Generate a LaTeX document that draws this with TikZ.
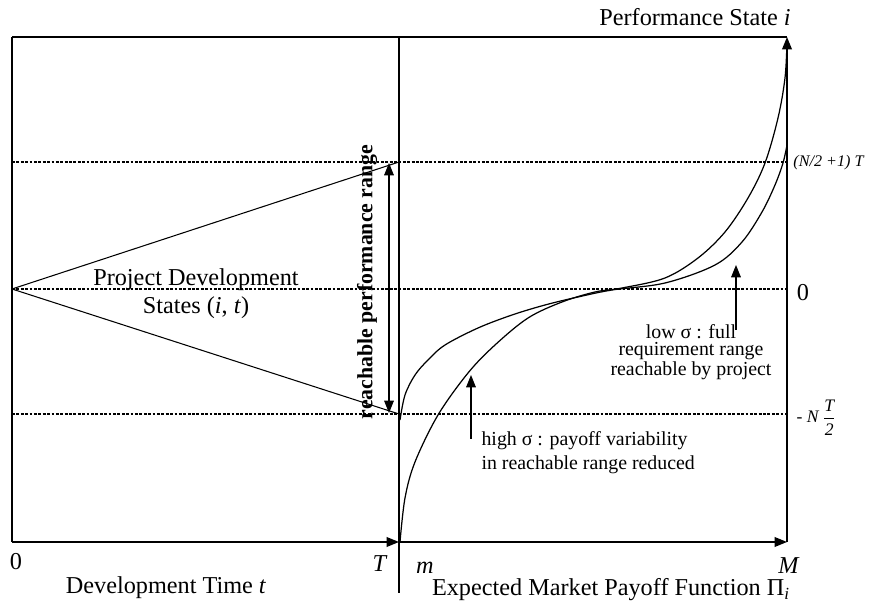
\documentclass[tikz,border=0pt]{standalone}
\usepackage{amsmath}
\usepackage{fontspec}
\setmainfont{Liberation Serif}
\usetikzlibrary{arrows.meta}

\begin{document}
\begin{tikzpicture}[x=0.02cm,y=-0.02cm,>={Triangle[length=7pt,width=5.5pt]},
		line width=0.8pt]
		\tikzstyle{lab}=[font=\fontsize{13.8}{16}\selectfont]
		\tikzstyle{note}=[font=\fontsize{11.3}{13.5}\selectfont]
		\tikzstyle{tight}=[font=\fontsize{11.3}{10}\selectfont]
		\tikzstyle{small}=[font=\fontsize{9.2}{11}\selectfont\itshape]
		\tikzstyle{level}=[line width=1pt,dash pattern=on 1.6pt off 0.9pt]
		\tikzstyle{curve}=[line width=0.7pt,smooth,tension=0.55]
		
		\useasboundingbox (0,0) rectangle (870,604);
		
		% frame
		\coordinate (o) at (12,542);
		\coordinate (t) at (399,542);
		\coordinate (m) at (787,542);
		\coordinate (tl) at (12,37);
		\coordinate (tm) at (399,37);
		\coordinate (tr) at (787,37);
		\coordinate (tb) at (399,593);
		% levels
		\coordinate (hi) at (12,162);
		\coordinate (hie) at (787,162);
		\coordinate (z) at (12,289);
		\coordinate (ze) at (787,289);
		\coordinate (lo) at (12,414);
		\coordinate (loe) at (787,414);
		
		\draw[level] (hi) -- (hie);
		\draw[level] (z) -- (ze);
		\draw[level] (lo) -- (loe);
		
		\draw (tl) -- (tr);
		\draw (tl) -- (o);
		\draw[->] (o) -- (t);
		\draw[->] (t) -- (m);
		\draw[->] (m) -- (tr);
		\draw[line width=1.4pt] (tm) -- (t);
		\draw[line width=0.6pt] (t) -- (tb);
		
		% states
		\draw[line width=0.6pt] (z) -- (t |- hi);
		\draw[line width=0.6pt] (z) -- (t |- lo);
		\coordinate (ra) at (389,163);
		\coordinate (rb) at (389,413);
		\draw[<->,line width=0.6pt] (ra) -- (rb);
		
		% payoff curves
		\draw[curve] plot coordinates {(400,542) (405,498) (415,462) (438,415)
			(468,373) (495,345) (528,318) (562,302) (595,292) (622,288) (665,278)
			(698,258) (725,232) (748,198) (765,163) (778,118) (785,78) (787,42)};
		\draw[curve] plot coordinates {(400,420) (405,395) (415,375) (428,360)
			(445,345) (478,328) (512,315) (545,305) (578,297) (612,290) (665,283)
			(715,265) (742,242) (762,212) (775,185) (783,163) (787,145)};
		
		\coordinate (hsa) at (471,439);
		\coordinate (hsb) at (471,375);
		\draw[->,line width=0.6pt] (hsa) -- (hsb);
		\coordinate (lsa) at (736,330);
		\coordinate (lsb) at (736,265);
		\draw[->,line width=0.6pt] (lsa) -- (lsb);
		
		% labels
		\node[lab] (perf) at (695,17) {Performance State \textit{i}};
		\node[small,anchor=west,inner sep=1pt] (up) at (791,163) {(N/2 +1) T};
		\node[lab] (zero) at (803,293) {0};
		\node[anchor=base west,font=\fontsize{10}{12}\selectfont] (down) at (790,423)
			{- \textit{N}\,$\dfrac{\textit{T}}{\textit{2}}$};
		\node[lab,anchor=base] (o0) at (16,570) {0};
		\node[lab,anchor=base] (oT) at (380,572) {\textit{T}};
		\node[lab,anchor=base] (om) at (425,574) {\textit{m}};
		\node[lab,anchor=base] (oM) at (789,574) {\textit{M}};
		\node[lab] (xl) at (166,588) {Development Time \textit{t}};
		\node[lab] (xr) at (611,590) {Expected Market Payoff Function Π\textsubscript{\textit{i}}};
		\node[lab,align=center] (pds) at (196,294) {Project Development\\States (\textit{i}, \textit{t})};
		\node[font=\fontsize{12.4}{14}\selectfont\bfseries,rotate=90] (rr) at (367,282)
			{reachable performance range};
		\node[note,align=left,anchor=west] (hs) at (475,453)
			{high σ : payoff variability\\in reachable range reduced};
		\node[tight,align=center] (ls) at (691,352)
			{low σ : full\\requirement range\\reachable by project};
\end{tikzpicture}
\end{document}
